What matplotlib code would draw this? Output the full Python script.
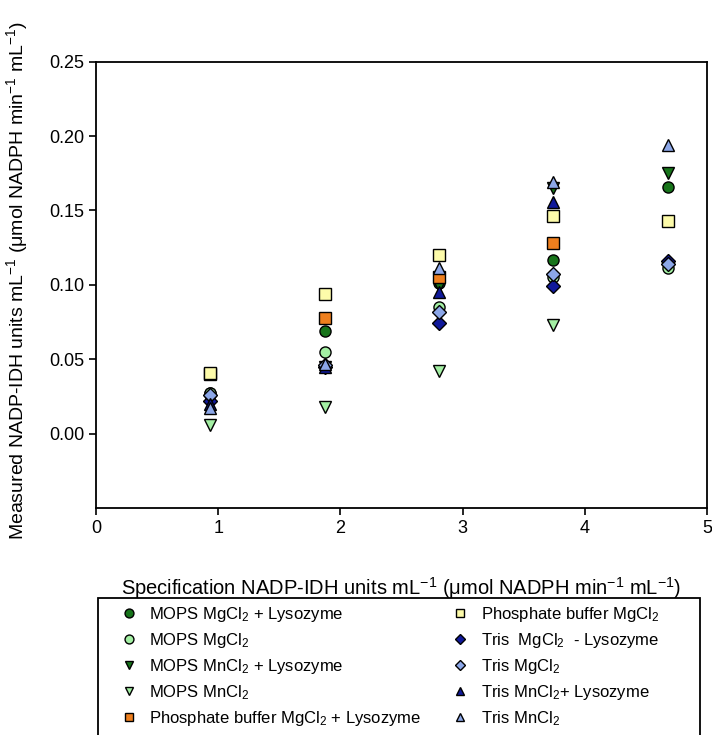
import numpy as np
import matplotlib
matplotlib.use("Agg")
import matplotlib.pyplot as plt
from matplotlib.patches import Rectangle

plt.rcParams['font.family'] = ['Liberation Sans', 'DejaVu Sans']
plt.rcParams['mathtext.default'] = 'regular'

# Specification activity (x) and measured activity (y) per buffer condition
spec = [0.93, 1.87, 2.81, 3.74, 4.68]

mops_mg_lys = [0.027, 0.069, 0.101, 0.117, 0.166]
mops_mg = [0.027, 0.055, 0.085, 0.105, 0.111]
mops_mn_lys = [0.022, 0.045, 0.099, 0.165, 0.175]
mops_mn = [0.006, 0.018, 0.042, 0.073, np.nan]
phos_mg_lys = [0.040, 0.078, 0.105, 0.128, np.nan]
phos_mg = [0.041, 0.094, 0.120, 0.146, 0.143]
tris_mg_nolys = [0.022, 0.045, 0.074, 0.099, 0.116]
tris_mg = [0.026, 0.046, 0.082, 0.107, 0.114]
tris_mn_lys = [0.020, 0.045, 0.095, 0.156, np.nan]
tris_mn = [0.017, 0.047, 0.111, 0.169, 0.194]

series = [
    (mops_mg_lys, 'o', '#17741a', r'MOPS MgCl$_2$ + Lysozyme'),
    (mops_mg, 'o', '#a3efa3', r'MOPS MgCl$_2$'),
    (mops_mn_lys, 'v', '#17741a', r'MOPS MnCl$_2$ + Lysozyme'),
    (mops_mn, 'v', '#a3efa3', r'MOPS MnCl$_2$'),
    (phos_mg_lys, 's', '#ee7f1e', r'Phosphate buffer MgCl$_2$ + Lysozyme'),
    (phos_mg, 's', '#fdfbaa', r'Phosphate buffer MgCl$_2$'),
    (tris_mg_nolys, 'D', '#10199a', r'Tris  MgCl$_2$  - Lysozyme'),
    (tris_mg, 'D', '#8ca7e8', r'Tris MgCl$_2$'),
    (tris_mn_lys, '^', '#10199a', r'Tris MnCl$_2$+ Lysozyme'),
    (tris_mn, '^', '#8ca7e8', r'Tris MnCl$_2$'),
]

fig = plt.figure(figsize=(7.12, 7.35), dpi=100)
ax = fig.add_axes([0.135, 0.309, 0.858, 0.607])

for vals, mk, col, lab in series:
    ms = 8 if mk != 'D' else 7
    ax.plot(spec, vals, linestyle='none', marker=mk, markersize=ms,
            markerfacecolor=col, markeredgecolor='black',
            markeredgewidth=1.0, label=lab)

ax.set_xlim(0, 5)
ax.set_ylim(-0.05, 0.25)
ax.set_xticks([0, 1, 2, 3, 4, 5])
ax.set_yticks([0.0, 0.05, 0.10, 0.15, 0.20, 0.25])
ax.set_yticklabels(['0.00', '0.05', '0.10', '0.15', '0.20', '0.25'])
ax.tick_params(labelsize=13, length=5, width=1.2, direction='out')
for sp in ax.spines.values():
    sp.set_linewidth(1.3)

ax.set_xlabel(r'Specification NADP-IDH units mL$^{-1}$ ($\mu$mol NADPH min$^{-1}$ mL$^{-1}$)',
              fontsize=14.5)
ax.xaxis.set_label_coords(0.5, -0.15)
ax.set_ylabel(r'Measured NADP-IDH units mL$^{-1}$ ($\mu$mol NADPH min$^{-1}$ mL$^{-1}$)',
              fontsize=14)
ax.yaxis.set_label_coords(-0.108, 0.51)

# legend frame, running off the bottom of the figure
fig.patches.append(Rectangle((0.138, -0.05), 0.845, 0.05 + 0.187,
                             transform=fig.transFigure, fill=False,
                             edgecolor='black', linewidth=1.3))

leg = fig.legend(loc='upper left', bbox_to_anchor=(0.169, 0.177),
                 ncol=2, fontsize=12, frameon=False, markerscale=0.8,
                 handlelength=1.0, handletextpad=0.75, labelspacing=0.42,
                 borderpad=0, borderaxespad=0, columnspacing=1.8)

fig.savefig('out.png', dpi=100)
